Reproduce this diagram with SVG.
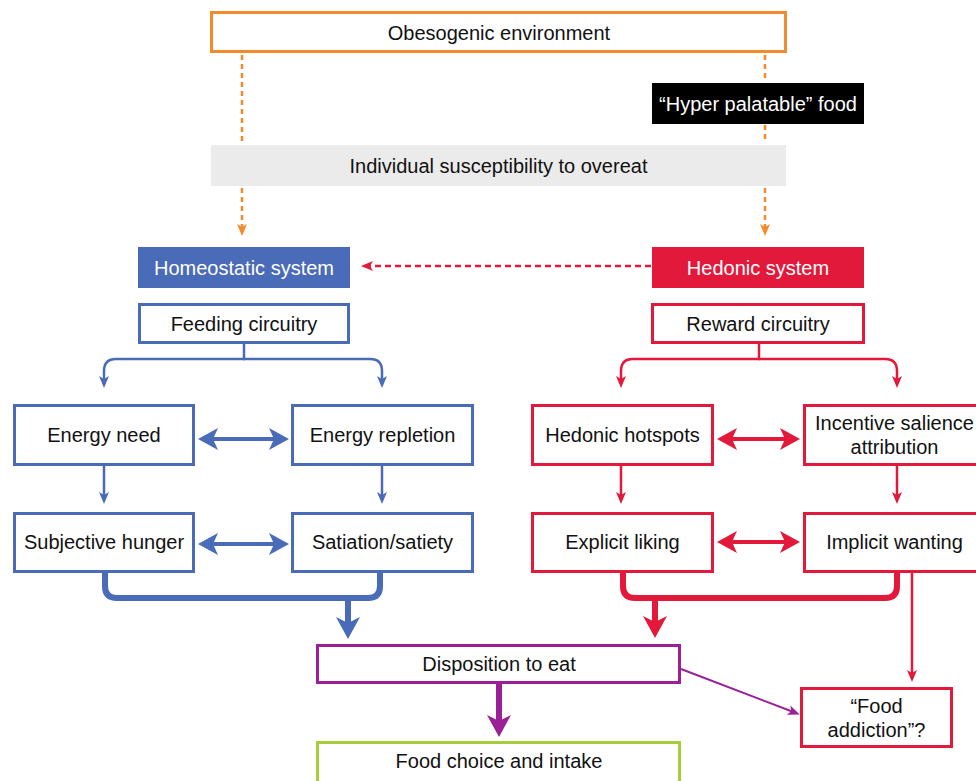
<svg xmlns="http://www.w3.org/2000/svg" width="976" height="781" viewBox="0 0 976 781">
<style>
text{font-family:"Liberation Sans",Arial,Helvetica,sans-serif;font-size:20px;text-anchor:middle;fill:#111}
.w{fill:#fff}
.bx{fill:#fff;stroke-width:3}
.bl{stroke:#4a6bb7}
.rd{stroke:#e3193b}
.c{fill:none}
</style>
<defs>
<marker id="aO" markerUnits="userSpaceOnUse" viewBox="0 0 12 12" refX="8" refY="6" markerWidth="12" markerHeight="12" orient="auto"><path d="M0,1 L12,6 L0,11 L3,6 z" fill="#f58a2b"/></marker>
<marker id="aRd" markerUnits="userSpaceOnUse" viewBox="0 0 12 12" refX="8" refY="6" markerWidth="12" markerHeight="12" orient="auto"><path d="M0,1 L12,6 L0,11 L3,6 z" fill="#e3193b"/></marker>
<marker id="aB" markerUnits="userSpaceOnUse" viewBox="0 0 12 12" refX="8" refY="6" markerWidth="12" markerHeight="12" orient="auto"><path d="M0,1 L12,6 L0,11 L3,6 z" fill="#4a6bb7"/></marker>
<marker id="aR" markerUnits="userSpaceOnUse" viewBox="0 0 12 12" refX="8" refY="6" markerWidth="12" markerHeight="12" orient="auto"><path d="M0,1 L12,6 L0,11 L3,6 z" fill="#e3193b"/></marker>
<marker id="aP" markerUnits="userSpaceOnUse" viewBox="0 0 12 12" refX="8" refY="6" markerWidth="12" markerHeight="12" orient="auto"><path d="M0,1 L12,6 L0,11 L3,6 z" fill="#9b1f96"/></marker>
<marker id="dB" markerUnits="userSpaceOnUse" viewBox="0 0 20 22" refX="14" refY="11" markerWidth="20" markerHeight="22" orient="auto-start-reverse"><path d="M0,0 L20,11 L0,22 L5,11 z" fill="#4a6bb7"/></marker>
<marker id="dR" markerUnits="userSpaceOnUse" viewBox="0 0 20 22" refX="14" refY="11" markerWidth="20" markerHeight="22" orient="auto-start-reverse"><path d="M0,0 L20,11 L0,22 L5,11 z" fill="#e3193b"/></marker>
<marker id="tB" markerUnits="userSpaceOnUse" viewBox="0 0 22 24" refX="14" refY="12" markerWidth="22" markerHeight="24" orient="auto"><path d="M0,0 L22,12 L0,24 L6,12 z" fill="#4a6bb7"/></marker>
<marker id="tR" markerUnits="userSpaceOnUse" viewBox="0 0 22 24" refX="14" refY="12" markerWidth="22" markerHeight="24" orient="auto"><path d="M0,0 L22,12 L0,24 L6,12 z" fill="#e3193b"/></marker>
<marker id="tP" markerUnits="userSpaceOnUse" viewBox="0 0 22 24" refX="14" refY="12" markerWidth="22" markerHeight="24" orient="auto"><path d="M0,0 L22,12 L0,24 L6,12 z" fill="#9b1f96"/></marker>
</defs>

<g id="connectors" class="c">
<g stroke="#f58a2b" stroke-width="2.5" stroke-dasharray="5 4">
<path d="M242,55 V142"/>
<path d="M242,188 V232" marker-end="url(#aO)"/>
<path d="M765,55 V82"/>
<path d="M765,125 V142"/>
<path d="M765,188 V232" marker-end="url(#aO)"/>
</g>
<path d="M651,266 H365" stroke="#e3193b" stroke-width="2.5" stroke-dasharray="6 4" marker-end="url(#aRd)"/>
<g stroke="#4a6bb7" stroke-width="2.5">
<path d="M244,344 V359"/>
<path d="M245,359 H116 Q104,359 104,371 V384" marker-end="url(#aB)"/>
<path d="M243,359 H370 Q382,359 382,371 V384" marker-end="url(#aB)"/>
<path d="M104,466 V500" marker-end="url(#aB)"/>
<path d="M382,466 V500" marker-end="url(#aB)"/>
</g>
<g stroke="#4a6bb7" stroke-width="4">
<path d="M204,439 H283" marker-start="url(#dB)" marker-end="url(#dB)"/>
<path d="M204,544 H283" marker-start="url(#dB)" marker-end="url(#dB)"/>
</g>
<g stroke="#e3193b" stroke-width="2.5">
<path d="M759,344 V359"/>
<path d="M760,359 H633 Q621,359 621,371 V384" marker-end="url(#aR)"/>
<path d="M758,359 H885 Q897,359 897,371 V384" marker-end="url(#aR)"/>
<path d="M621,466 V500" marker-end="url(#aR)"/>
<path d="M897,466 V500" marker-end="url(#aR)"/>
<path d="M912,573 V678" marker-end="url(#aR)"/>
</g>
<g stroke="#e3193b" stroke-width="4">
<path d="M723,439 H794" marker-start="url(#dR)" marker-end="url(#dR)"/>
<path d="M723,542 H794" marker-start="url(#dR)" marker-end="url(#dR)"/>
</g>
<path d="M105,573 V586 Q105,598 117,598 H368 Q380,598 380,586 V573" stroke="#4a6bb7" stroke-width="6"/>
<path d="M348,598 V631" stroke="#4a6bb7" stroke-width="6" marker-end="url(#tB)"/>
<path d="M623,573 V586 Q623,598 635,598 H885 Q897,598 897,586 V573" stroke="#e3193b" stroke-width="6"/>
<path d="M655,598 V630" stroke="#e3193b" stroke-width="6" marker-end="url(#tR)"/>
<path d="M499,684 V729" stroke="#9b1f96" stroke-width="6" marker-end="url(#tP)"/>
<path d="M681,669 L796,713" stroke="#9b1f96" stroke-width="2" marker-end="url(#aP)"/>
</g>

<g id="obesogenic"><rect x="211.5" y="12.5" width="574" height="39" class="bx" stroke="#f58a2b"/><text x="499" y="40">Obesogenic environment</text></g>
<g id="hyper"><rect x="652" y="83" width="212" height="41" fill="#000"/><text x="758" y="110.5" class="w">“Hyper palatable” food</text></g>
<g id="susceptibility"><rect x="211" y="145" width="575" height="41" fill="#ebebeb"/><text x="498.5" y="172.5">Individual susceptibility to overeat</text></g>
<g id="homeostatic"><rect x="138" y="247" width="212" height="41" fill="#4a6bb7"/><text x="244" y="274.5" class="w">Homeostatic system</text></g>
<g id="hedonic"><rect x="652" y="247" width="212" height="41" fill="#e3193b"/><text x="758" y="274.5" class="w">Hedonic system</text></g>
<g id="feeding"><rect x="139.5" y="304.5" width="209" height="38" class="bx bl"/><text x="244" y="330.5">Feeding circuitry</text></g>
<g id="reward"><rect x="652.5" y="304.5" width="211" height="38" class="bx rd"/><text x="758" y="330.5">Reward circuitry</text></g>
<g id="energy-need"><rect x="14.5" y="405.5" width="179" height="59" class="bx bl"/><text x="104" y="442">Energy need</text></g>
<g id="energy-repletion"><rect x="292.5" y="405.5" width="180" height="59" class="bx bl"/><text x="382.5" y="442">Energy repletion</text></g>
<g id="hotspots"><rect x="532.5" y="405.5" width="180" height="59" class="bx rd"/><text x="622.5" y="442">Hedonic hotspots</text></g>
<g id="incentive"><rect x="804.5" y="405.5" width="180" height="59" class="bx rd"/><text x="894.5" y="430">Incentive salience</text><text x="894.5" y="454">attribution</text></g>
<g id="hunger"><rect x="14.5" y="513.5" width="179" height="58" class="bx bl"/><text x="104" y="549">Subjective hunger</text></g>
<g id="satiation"><rect x="292.5" y="513.5" width="180" height="58" class="bx bl"/><text x="382.5" y="549">Satiation/satiety</text></g>
<g id="liking"><rect x="532.5" y="513.5" width="180" height="58" class="bx rd"/><text x="622.5" y="549">Explicit liking</text></g>
<g id="wanting"><rect x="804.5" y="513.5" width="180" height="58" class="bx rd"/><text x="894.5" y="549">Implicit wanting</text></g>
<g id="disposition"><rect x="317.5" y="645.5" width="362" height="37" class="bx" stroke="#9b1f96"/><text x="499" y="670.5">Disposition to eat</text></g>
<g id="food-choice"><rect x="317.5" y="742.5" width="362" height="40" class="bx" stroke="#a6ce39"/><text x="499" y="767.5">Food choice and intake</text></g>
<g id="addiction"><rect x="801.5" y="688.5" width="150" height="58" class="bx rd"/><text x="876.5" y="713">“Food</text><text x="876.5" y="737">addiction”?</text></g>
</svg>
